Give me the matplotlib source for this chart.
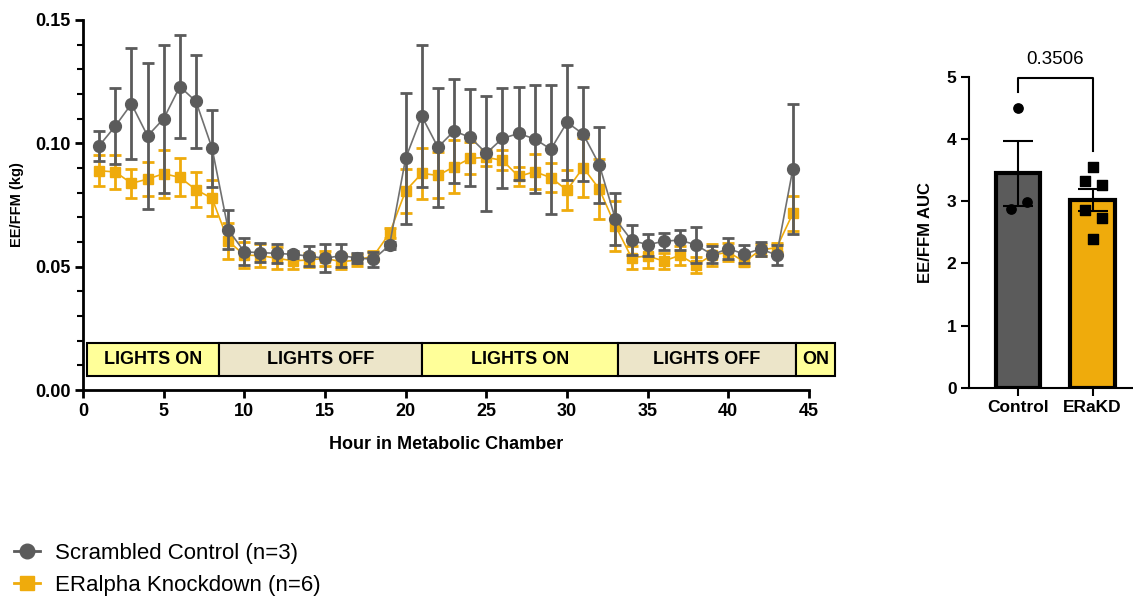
import matplotlib
matplotlib.use("Agg")
import matplotlib.pyplot as plt
from matplotlib.patches import Rectangle
from matplotlib.lines import Line2D
from matplotlib.ticker import MultipleLocator
import numpy as np

plt.rcParams['font.family'] = ['Liberation Sans', 'DejaVu Sans']

# hourly energy expenditure normalised to fat-free mass
hours = np.arange(1, 45)
ctrl_mean = [0.099, 0.107, 0.116, 0.103, 0.110, 0.123, 0.117, 0.098, 0.065, 0.056,
             0.0557, 0.0554, 0.055, 0.0543, 0.0534, 0.0545, 0.0535, 0.053, 0.0587, 0.094,
             0.111, 0.0984, 0.105, 0.1024, 0.096, 0.102, 0.104, 0.1018, 0.0976, 0.1085,
             0.1038, 0.0914, 0.0693, 0.0607, 0.0589, 0.0603, 0.0608, 0.0588, 0.0549, 0.0573,
             0.0551, 0.0572, 0.0547, 0.0896]
ctrl_sem = [0.006, 0.0155, 0.0225, 0.0295, 0.030, 0.021, 0.019, 0.0157, 0.0079, 0.0055,
            0.0038, 0.0039, 0.0015, 0.004, 0.0056, 0.0048, 0.0022, 0.003, 0.0015, 0.0265,
            0.0288, 0.0242, 0.021, 0.0195, 0.0233, 0.0203, 0.0187, 0.022, 0.0261, 0.0233,
            0.019, 0.0154, 0.0106, 0.006, 0.0044, 0.0034, 0.0042, 0.0074, 0.0034, 0.0042,
            0.0038, 0.0027, 0.004, 0.0264]
kd_mean = [0.0889, 0.0884, 0.0838, 0.0855, 0.0877, 0.0862, 0.0812, 0.0777, 0.0604, 0.0547,
           0.0545, 0.0534, 0.0524, 0.0527, 0.0534, 0.052, 0.0527, 0.0543, 0.0635, 0.0808,
           0.0878, 0.087, 0.0905, 0.0939, 0.0943, 0.0931, 0.0866, 0.0885, 0.0861, 0.081,
           0.0902, 0.0815, 0.0666, 0.0537, 0.0543, 0.0523, 0.0546, 0.0507, 0.0547, 0.0559,
           0.052, 0.0568, 0.0577, 0.0716]
kd_sem = [0.0063, 0.0069, 0.006, 0.0069, 0.0098, 0.0077, 0.007, 0.0073, 0.0074, 0.0052,
          0.0048, 0.0045, 0.0035, 0.003, 0.003, 0.003, 0.0025, 0.002, 0.002, 0.009,
          0.0103, 0.0093, 0.0107, 0.0065, 0.0035, 0.004, 0.004, 0.007, 0.006, 0.008,
          0.0118, 0.012, 0.0102, 0.0046, 0.0047, 0.0031, 0.0038, 0.0031, 0.0044, 0.0035,
          0.0019, 0.0025, 0.0017, 0.0072]

# light/dark phases (hour boundaries)
phase_edges = [0.25, 8.43, 20.99, 33.18, 44.18, 46.6]
phase_labels = ['LIGHTS ON', 'LIGHTS OFF', 'LIGHTS ON', 'LIGHTS OFF', 'ON']

# area under curve per animal
groups = ['Control', 'ERaKD']
auc_ctrl = [4.50, 2.875, 2.98]
auc_kd = [3.557, 3.33, 3.26, 2.854, 2.73, 2.40]
p_value = '0.3506'

gray = '#5b5b5b'
orange = '#efab0c'
on_color = '#ffff99'
off_color = '#ece5c9'

fig = plt.figure(figsize=(11.33, 5.97), dpi=100)

# time course
ax = fig.add_axes([0.0733, 0.3467, 0.6407, 0.6198])
ax.errorbar(hours, kd_mean, yerr=kd_sem, color=orange, lw=1.2, marker='s', ms=7.5,
            mec=orange, mfc=orange, ecolor=orange, elinewidth=2, capsize=4, capthick=2,
            zorder=3)
ax.errorbar(hours, ctrl_mean, yerr=ctrl_sem, color='#707070', lw=1.2, marker='o', ms=8.5,
            mec=gray, mfc=gray, ecolor=gray, elinewidth=2, capsize=4, capthick=2,
            zorder=4)

for i, lab in enumerate(phase_labels):
    x0, x1 = phase_edges[i], phase_edges[i + 1]
    fc = off_color if 'OFF' in lab else on_color
    ax.add_patch(Rectangle((x0, 0.0057), x1 - x0, 0.0133, facecolor=fc,
                           edgecolor='black', lw=1.5, clip_on=False, zorder=2))
    ax.text((x0 + x1) / 2, 0.0124, lab, ha='center', va='center', fontsize=13,
            fontweight='bold', zorder=5, clip_on=False)

ax.set_xlim(0, 45)
ax.set_ylim(0, 0.15)
ax.xaxis.set_major_locator(MultipleLocator(5))
ax.yaxis.set_major_locator(MultipleLocator(0.05))
ax.yaxis.set_minor_locator(MultipleLocator(0.01))
ax.yaxis.set_major_formatter(plt.FuncFormatter(lambda v, p: f'{v:.2f}'))
for s in ['top', 'right']:
    ax.spines[s].set_visible(False)
for s in ['left', 'bottom']:
    ax.spines[s].set_linewidth(2)
ax.tick_params(which='major', length=6, width=2, labelsize=13, pad=3)
ax.tick_params(which='minor', length=4, width=1.5)
for t in ax.get_xticklabels() + ax.get_yticklabels():
    t.set_fontweight('bold')
ax.set_xlabel('Hour in Metabolic Chamber', fontsize=13, fontweight='bold', labelpad=12)
ax.set_ylabel('EE/FFM (kg)', fontsize=10.5, fontweight='bold', labelpad=8)

handles = [
    Line2D([], [], color=gray, lw=2, marker='o', ms=10.5, mfc=gray, mec=gray),
    Line2D([], [], color=orange, lw=2, marker='s', ms=9.5, mfc=orange, mec=orange),
]
labels = ['Scrambled Control (n=3)', 'ERalpha Knockdown (n=6)']
fig.legend(handles, labels, loc='lower left', bbox_to_anchor=(0.012, 0.002),
           frameon=False, fontsize=16, borderpad=0, borderaxespad=0,
           handlelength=1.2, handletextpad=0.68, labelspacing=0.49)

# AUC bar chart
bx = fig.add_axes([0.8553, 0.3506, 0.1447, 0.5206])
means = [np.mean(auc_ctrl), np.mean(auc_kd)]
sems = [np.std(auc_ctrl, ddof=1) / np.sqrt(len(auc_ctrl)),
        np.std(auc_kd, ddof=1) / np.sqrt(len(auc_kd))]
bx.bar([0, 1], means, width=0.6, color=[gray, orange], edgecolor='black', lw=3, zorder=2)
bx.errorbar([0, 1], means, yerr=sems, fmt='none', ecolor='black', elinewidth=1.5,
            capsize=11, capthick=1.5, zorder=3)
ctrl_x = [0.0, -0.1, 0.12]
kd_x = [0.0, -0.1, 0.12, -0.1, 0.12, 0.0]
bx.scatter(ctrl_x, auc_ctrl, marker='o', s=45, color='black', zorder=4)
bx.scatter([1 + d for d in kd_x], auc_kd, marker='s', s=45, color='black', zorder=4)

# significance bracket
bx.plot([0, 0, 1, 1], [4.75, 4.98, 4.98, 3.8], color='black', lw=1.5, clip_on=False)
bx.text(0.5, 5.15, p_value, ha='center', va='bottom', fontsize=13.5)

bx.set_xlim(-0.656, 1.54)
bx.set_ylim(0, 5)
bx.set_xticks([0, 1])
bx.set_xticklabels(groups)
bx.yaxis.set_major_locator(MultipleLocator(1))
for s in ['top', 'right']:
    bx.spines[s].set_visible(False)
for s in ['left', 'bottom']:
    bx.spines[s].set_linewidth(1.5)
bx.tick_params(length=6, width=1.5, labelsize=12.5, pad=3)
for t in bx.get_xticklabels() + bx.get_yticklabels():
    t.set_fontweight('bold')
bx.set_ylabel('EE/FFM AUC', fontsize=12, fontweight='bold', labelpad=10)

fig.savefig('out.png', dpi=100)
